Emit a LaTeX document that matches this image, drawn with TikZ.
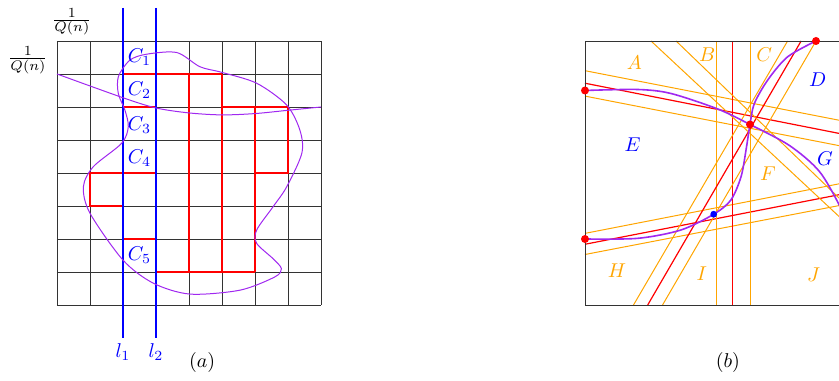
\documentclass[tikz,border=0pt]{standalone}
\usepackage{amsmath, amssymb}
\usepackage{tikz}
\usetikzlibrary{calc}
\definecolor{lineorange}{RGB}{255,165,0}
\definecolor{curvepurple}{RGB}{160,40,240}

\begin{document}
\begin{tikzpicture}[x=0.58cm,y=0.58cm,
    cutline/.style={red,line width=1pt},
    sweepline/.style={blue,line width=1.2pt},
    stripline/.style={lineorange,line width=0.5pt},
    midline/.style={red,line width=0.6pt},
    region/.style={lineorange},
    face/.style={blue}]
  \useasboundingbox (-1.727,-2.303) rectangle (23.697,9.242);
  \clip (-1.727,-2.303) rectangle (23.697,9.242);
  % (a) the grid with the cells
  \draw[black!80,step=1] (0,0) grid (8,8);
  \draw[cutline] (2,7) -- (5,7);
  \draw[cutline] (4,7) -- (4,1);
  \draw[cutline] (5,7) -- (5,1);
  \draw[cutline] (2,6) -- (3,6);
  \draw[cutline] (5,6) -- (7,6) -- (7,4) -- (6,4);
  \draw[cutline] (6,6) -- (6,1);
  \draw[cutline] (3,4) -- (1,4) -- (1,3) -- (2,3);
  \draw[cutline] (2,2) -- (3,2);
  \draw[cutline] (3,1) -- (6,1);
  % the two sweep lines
  \draw[sweepline] (2,9) -- (2,-1);
  \draw[sweepline] (3,9) -- (3,-1);
  % the curves
  \draw[curvepurple,line width=0.5pt] plot [smooth cycle] coordinates {(1.86,6.92) (2.21,7.42) (2.72,7.6) (3.63,7.65) (4.33,7.22) (4.99,7.05) (6.05,6.72) (6.96,6.06) (7.36,5.3) (7.42,4.6) (6.96,3.58) (6.55,2.98) (6.05,2.27) (6.05,1.87) (6.55,1.4) (6.8,1.1) (6.6,0.85) (5.55,0.45) (4.03,0.33) (2.92,0.66) (2.0,1.36) (1.0,2.78) (0.8,3.58) (1.1,4.19) (1.96,4.9) (2.16,5.4) (2.06,5.9) (1.86,6.4)};
  \draw[curvepurple,line width=0.5pt] plot [smooth] coordinates {(0,7) (2,6.28) (3,5.97) (4,5.82) (5,5.76) (6,5.8) (7,5.9) (8,6)};
  % label the cells
  \foreach \i/\y in {1/7.5,2/6.5,3/5.45,4/4.45,5/1.5}
    \node[face] (C\i) at (2.5,\y) {$C_{\i}$};
  \node (qtop) at (0.45,8.58) {$\frac{1}{Q(n)}$};
  \node (qleft) at (-0.88,7.42) {$\frac{1}{Q(n)}$};
  \node[face] (l1) at (2,-1.42) {$l_1$};
  \node[face] (l2) at (3,-1.42) {$l_2$};
  \node (capa) at (4.4,-1.73) {$(a)$};
  % (b) the arrangement
  \begin{scope}[shift={(16,0)}]
    \begin{scope}
      \clip (0,0) rectangle (8,8);
      \draw[stripline] (0,7.1) -- (8,5.54);
      \draw[midline] (0,6.72) -- (8,5.14);
      \draw[stripline] (0,6.33) -- (8,4.77);
      \draw[stripline] (0,2.17) -- (8,3.73);
      \draw[midline] (0,1.84) -- (8,3.40);
      \draw[stripline] (0,1.53) -- (8,3.07);
      \draw[stripline] (4,0) -- (4,8);
      \draw[midline] (4.48,0) -- (4.48,8);
      \draw[stripline] (5,0) -- (5,8);
      \draw[stripline] (1.47,0) -- (6.14,8);
      \draw[midline] (1.9,0) -- (6.55,8);
      \draw[stripline] (2.35,0) -- (7,8);
      \draw[stripline] (2,8) -- (8,2.4);
      \draw[stripline] (2.76,8) -- (8,2.95);
      \draw[curvepurple,thick] plot [smooth] coordinates {(0,6.5) (1.6,6.53) (2.6,6.41) (4.02,5.94) (5,5.47) (6.2,4.83) (7.1,4.05) (7.73,2.98) (8,2.3)};
      \draw[curvepurple,thick] plot [smooth] coordinates {(0,2) (1.6,2.02) (2.9,2.27) (3.9,2.75) (4.42,3.18) (4.73,3.89) (4.88,4.7) (5,5.47) (5.13,6.1) (5.54,6.82) (6.14,7.52) (7,8)};
    \end{scope}
    \draw[black!80] (0,0) rectangle (8,8);
    \fill[red] (0,6.5) circle (2pt);
    \fill[red] (0,2) circle (2pt);
    \fill[red] (5,5.47) circle (2pt);
    \fill[red] (7,8) circle (2pt);
    \fill[blue] (3.9,2.75) circle (1.7pt);
    % label the faces
    \node[region] (A) at (1.5,7.34) {$A$};
    \node[region] (B) at (3.7,7.58) {$B$};
    \node[region] (C) at (5.43,7.6) {$C$};
    \node[face] (D) at (7.05,6.84) {$D$};
    \node[face] (E) at (1.44,4.85) {$E$};
    \node[region] (F) at (5.54,3.99) {$F$};
    \node[face] (G) at (7.27,4.44) {$G$};
    \node[region] (H) at (0.97,1.04) {$H$};
    \node[region] (I) at (3.54,0.96) {$I$};
    \node[region] (J) at (6.93,0.93) {$J$};
    \node (capb) at (4.33,-1.73) {$(b)$};
  \end{scope}
\end{tikzpicture}
\end{document}
